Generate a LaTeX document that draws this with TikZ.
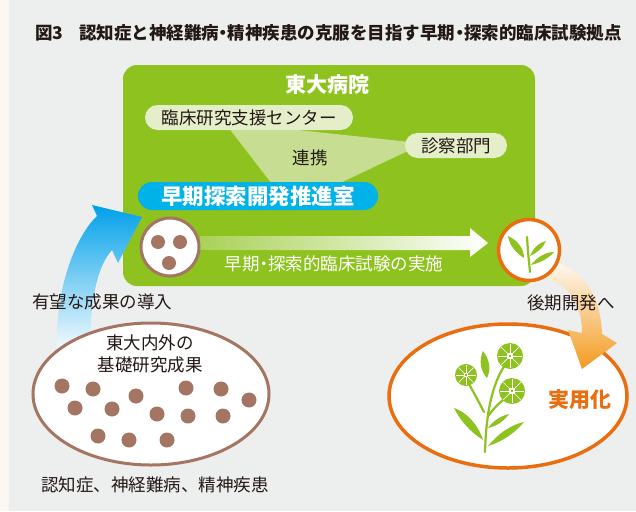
\documentclass[tikz,border=0pt]{standalone}
\usepackage{fontspec}
\setmainfont{Noto Sans CJK JP}
\usetikzlibrary{calc}

\definecolor{paper}{HTML}{EDEFEE}
\definecolor{margincream}{HTML}{FCF8F1}
\definecolor{ink}{HTML}{231815}
\definecolor{leaf}{HTML}{8DC21F}
\definecolor{palepill}{HTML}{E4EEC8}
\definecolor{linkgreen}{HTML}{C6DD92}
\definecolor{labcyan}{HTML}{00B2E8}
\definecolor{seedbrown}{HTML}{A57564}
\definecolor{fruitorange}{HTML}{EA6D10}
\definecolor{flowblue}{HTML}{00A0E9}
\definecolor{floworange}{HTML}{F39A1E}

% a middle dot set half as wide as a full-width character
\newcommand\narrowdot{\makebox[0.5em][c]{・}}

\tikzset{
  heading/.style={font=\fontsize{17.5}{20}\selectfont\bfseries, text=ink, inner sep=0},
  label/.style={font=\fontsize{17.5}{21}\selectfont, text=ink, inner sep=0},
  whitelabel/.style={font=\fontsize{17.5}{21}\selectfont, text=white, inner sep=0},
  pill/.style={fill=palepill, rounded corners=12.5, minimum height=25, inner sep=0},
  labpill/.style={fill=labcyan, rounded corners=14, minimum height=28, minimum width=240, inner sep=0,
    font=\fontsize{21.5}{24}\selectfont\bfseries, text=white},
  seed/.style={fill=seedbrown},
  stemline/.style={draw=leaf, line width=2.2, line cap=round},
  bloom/.pic={
    \fill[leaf] (0,0) circle[radius=1];
    \foreach \a in {0,45,...,315}
      \draw[white, line width=0.7] (\a:0.14) -- (\a:0.95);
    \fill[white] (-0.2,-0.2) rectangle (0.2,0.2);
    \fill[leaf] (-0.1,-0.1) rectangle (0.1,0.1);
  }
}

\begin{document}
\begin{tikzpicture}[x=1pt,y=-1pt]
\useasboundingbox (0,0) rectangle (636,511);
\fill[paper] (0,0) rectangle (636,511);
\fill[margincream] (0,0) rectangle (9,511);

% heading
\node[heading, anchor=west] (fignum) at (35,33) {図3};
\node[heading, anchor=west] (title) at (79,33) {認知症と神経難病\narrowdot 精神疾患の克服を目指す早期\narrowdot 探索的臨床試験拠点};

% university hospital block
\fill[leaf, rounded corners=14] (123,65) rectangle (535,286);
\node[font=\fontsize{21}{24}\selectfont\bfseries, text=white, inner sep=0] (hospital) at (327,85) {東大病院};

% cooperation wedge behind the two units
\fill[linkgreen] (228,127) -- (270,127) -- (410,142) -- (410,150) -- (338,184) -- (272,184) -- cycle;
\node[pill, minimum width=208, font=\fontsize{17.5}{21}\selectfont, text=ink] (center) at (249,117.5) {臨床研究支援センター};
\node[pill, minimum width=102, font=\fontsize{17.5}{21}\selectfont, text=ink] (clinic) at (456,145.5) {診察部門};
\node[label] (coop) at (310,158) {連携};
\node[labpill] (office) at (258,196) {早期探索開発推進室};

% trial arrow
\shade[left color=leaf!75!white, right color=white]
  (200,236) -- (470,236) -- (470,228) -- (488,243) -- (470,257) -- (470,250) -- (200,250) -- cycle;
\node[whitelabel] (trial) at (334,264) {早期\narrowdot 探索的臨床試験の実施};

% seed circle
\node[circle, draw=seedbrown, line width=3, fill=white, minimum size=58, inner sep=0] (seeds) at (170,247) {};
\fill[seed] (158,242) circle[radius=7];
\fill[seed] (180,242) circle[radius=7];
\fill[seed] (169,263) circle[radius=7];

% promising results arrow
\shade[top color=flowblue, middle color=flowblue!55!white, bottom color=white]
  (57,356) -- (57,330) .. controls (59,282) and (76,236) .. (97,216) -- (92,205) -- (142,217)
  -- (118,263) -- (112,250) .. controls (98,266) and (90,295) .. (90,356) -- cycle;
\node[label] (intro) at (102,302) {有望な成果の導入};

% basic research pool
\draw[seedbrown, line width=3, fill=white] (151,394) ellipse [x radius=118, y radius=71];
\node[label, align=center] (basic) at (150,354) {東大内外の\\[1pt]基礎研究成果};
\foreach \p in {(62,386),(93,389),(136,396),(186,388),(221,389),(249,400),
                (75,408),(112,409),(157,414),(188,416),(223,416),
                (98,436),(129,440),(167,440)}
  \fill[seed] \p circle[radius=7.5];
\node[label] (diseases) at (155,485) {認知症、神経難病、精神疾患};

% practical use pool
\draw[fruitorange, line width=3.5, fill=white] (508,396) ellipse [x radius=119, y radius=72];
\node[font=\fontsize{21}{24}\selectfont\bfseries, text=fruitorange, inner sep=0] (practical) at (580,400) {実用化};

% later development arrow
\shade[top color=floworange!6!white, bottom color=floworange]
  (553,262) .. controls (585,270) and (601,298) .. (602,334) -- (617,343) -- (582,369)
  -- (568,330) -- (582,333) .. controls (582,305) and (570,285) .. (545,278) -- cycle;
\node[label] (later) at (571,303) {後期開発へ};

% sprout circle
\node[circle, draw=fruitorange, line width=3.5, fill=white, minimum size=61, inner sep=0] (sprout) at (529,250) {};
\draw[stemline] (527,237) .. controls (528,252) .. (530,272);
\fill[leaf] (508,236) .. controls (517,240) and (524,248) .. (524,258) .. controls (516,253) and (509,245) .. cycle;
\fill[leaf] (530,256) .. controls (533,248) and (540,242) .. (546,241) .. controls (543,248) and (537,253) .. cycle;
\fill[leaf] (531,265) .. controls (537,257) and (546,252) .. (554,252) .. controls (549,258) and (540,263) .. cycle;

% flowering plant
\draw[stemline] (485,452) .. controls (486,420) and (490,385) .. (507,362);
\draw[stemline] (484,412) .. controls (478,400) and (472,390) .. (466,378);
\draw[stemline] (488,416) .. controls (494,408) and (500,402) .. (508,396);
\fill[leaf] (487,378) .. controls (480,370) and (479,360) .. (483,351) .. controls (490,360) and (491,370) .. cycle;
\fill[leaf] (483,440) .. controls (470,432) and (460,420) .. (454,408) .. controls (466,412) and (478,424) .. cycle;
\fill[leaf] (488,428) .. controls (494,420) and (501,416) .. (509,414) .. controls (504,421) and (497,426) .. cycle;
\fill[leaf] (488,446) .. controls (498,434) and (510,425) .. (524,422) .. controls (516,432) and (502,442) .. cycle;
\pic[scale=13] at (510,356) {bloom};
\pic[scale=13] at (512,391) {bloom};
\pic[scale=11] at (466,375) {bloom};
\end{tikzpicture}
\end{document}
